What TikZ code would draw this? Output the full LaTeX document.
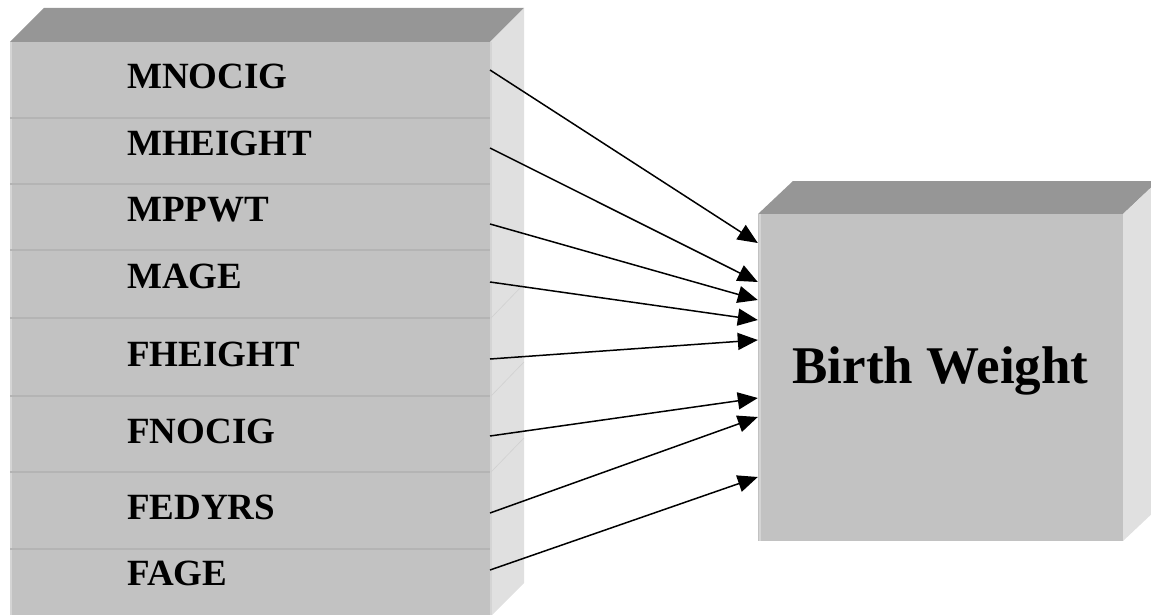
\documentclass[tikz,border=0pt]{standalone}
\usepackage{fontspec}
\setmainfont{Liberation Serif}
\usetikzlibrary{arrows.meta}
\definecolor{frontgray}{HTML}{C2C2C2}
\definecolor{topgray}{HTML}{969696}
\definecolor{sidegray}{HTML}{E0E0E0}
\definecolor{rulegray}{HTML}{B4B4B4}
\definecolor{seamgray}{HTML}{D0D0D0}
\definecolor{edgegray}{HTML}{D4D4D4}

\begin{document}
\begin{tikzpicture}[x=1pt,y=-1pt,
  front/.style={fill=frontgray},
  topface/.style={fill=topgray},
  sideface/.style={fill=sidegray},
  rowrule/.style={draw=rulegray, line width=2pt},
  seam/.style={draw=seamgray, line width=0.6pt},
  edgeline/.style={draw=edgegray, line width=2pt},
  varlabel/.style={anchor=base west, inner sep=0pt,
    font=\fontsize{37}{40}\selectfont\bfseries},
  bwbox/.style={rectangle, fill=frontgray, inner sep=0pt,
    minimum width=365pt, minimum height=327pt},
  bwlabel/.style={anchor=base, inner sep=0pt,
    font=\fontsize{53}{57}\selectfont\bfseries},
  link/.style={draw=black, line width=1.5pt,
    -{Triangle[length=20pt,width=17pt]}},
]
\useasboundingbox (0,0) rectangle (1151,615);
\begin{scope}
  \clip (0,0) rectangle (1151,615);

  % stacked block of predictor variables
  \fill[topface]  (10,42) -- (44,8) -- (524,8) -- (490,42) -- cycle;
  \fill[sideface] (490,42) -- (524,8) -- (524,583) -- (490,617) -- cycle;
  \fill[front]    (10,42) rectangle (490,620);
  \draw[edgeline] (11,42) -- (11,620);
  \draw[edgeline] (491,42) -- (491,620);
  \foreach \y in {118,184,250,318,396,472,549}
    \draw[rowrule] (10,\y) -- (490,\y);
  \foreach \y in {318,396,472}
    \draw[seam] (491,\y) -- (524,\y-34);

  % outcome block
  \fill[topface]  (758,214) -- (793,181) -- (1158,181) -- (1123,214) -- cycle;
  \fill[sideface] (1123,214) -- (1158,181) -- (1158,508) -- (1123,541) -- cycle;
\end{scope}

\node[bwbox] (bw) at (940.5,377.5) {};
\draw[edgeline] (759.5,214) -- (759.5,541);
\node[bwlabel] (bwtext) at (940.5,383) {Birth Weight};

% variable names
\node[varlabel] (v1) at (127,89)  {MNOCIG};
\node[varlabel] (v2) at (127,155) {MHEIGHT};
\node[varlabel] (v3) at (127,221) {MPPWT};
\node[varlabel] (v4) at (127,288) {MAGE};
\node[varlabel] (v5) at (127,366) {FHEIGHT};
\node[varlabel] (v6) at (127,443) {FNOCIG};
\node[varlabel] (v7) at (127,519) {FEDYRS};
\node[varlabel] (v8) at (127,585) {FAGE};

% connector ends on the block faces
\coordinate (s1) at (490,70);
\coordinate (s2) at (490,148);
\coordinate (s3) at (490,224);
\coordinate (s4) at (490,282);
\coordinate (s5) at (490,359);
\coordinate (s6) at (490,436);
\coordinate (s7) at (490,513);
\coordinate (s8) at (490,570);
\coordinate (t1) at (bw.west |- 0,243);
\coordinate (t2) at (bw.west |- 0,282);
\coordinate (t3) at (bw.west |- 0,300);
\coordinate (t4) at (bw.west |- 0,320);
\coordinate (t5) at (bw.west |- 0,340);
\coordinate (t6) at (bw.west |- 0,398);
\coordinate (t7) at (bw.west |- 0,417);
\coordinate (t8) at (bw.west |- 0,477);

\foreach \i in {1,...,8}
  \draw[link] (s\i) -- (t\i);
\end{tikzpicture}
\end{document}
